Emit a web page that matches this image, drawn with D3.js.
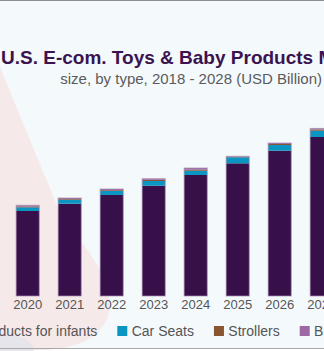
<!DOCTYPE html>
<html>
<head>
<meta charset="utf-8">
<script src="https://cdn.jsdelivr.net/npm/d3@7"></script>
<style>
  body { margin: 0; background: #fff; }
  svg { display: block; font-family: "Liberation Sans", Arial, sans-serif; }
  .title { font-weight: bold; fill: #3b1350; }
  .subtitle { fill: #5b5b5b; }
  .axis text { fill: #555; }
  .legend text { fill: #555; }
</style>
</head>
<body>
<svg id="chart"></svg>
<script>
  //begin: data (USD Billion)
  var years = ["2018","2019","2020","2021","2022","2023","2024","2025","2026","2027","2028"];
  var barYears = ["2020","2021","2022","2023","2024","2025","2026","2027"];
  var seriesNames = ["Products for infants", "Car Seats", "Strollers", "Baby Monitors"];
  var seriesColors = ["#37104a", "#0a95c2", "#8a5531", "#9c69a2"];
  var infants   = [8.50, 9.23, 10.10, 11.03, 12.10, 13.27, 14.53, 15.90];
  var carSeats  = [0.37, 0.40, 0.40, 0.47, 0.43, 0.60, 0.57, 0.63];
  var strollers = [0.08, 0.07, 0.08, 0.12, 0.10, 0.04, 0.10, 0.12];
  var monitors  = [0.12, 0.10, 0.12, 0.11, 0.17, 0.06, 0.10, 0.11];
  //end: data

  //begin: layout conf.
  var width = 324, height = 351,
      baseY = 296,
      topY = 96;
  //end: layout conf.

  var svg = d3.select("#chart").attr("width", width).attr("height", height);

  // background + decorative shapes
  svg.append("rect").attr("width", width).attr("height", 349).attr("fill", "#f4f9fc");
  svg.append("path")
    .attr("fill", "#f6e9e9")
    .attr("d", "M-40,-30 L63,220 C92,252 114,285 109,312 C103,338 78,349 40,350 L-40,350 Z");
  svg.append("ellipse")
    .attr("cx", 2).attr("cy", 350).attr("rx", 32).attr("ry", 16)
    .attr("fill", "#e6e5ec");
  svg.append("line").attr("x1", 0).attr("x2", width).attr("y1", 0.5).attr("y2", 0.5)
    .attr("stroke", "#8f8f8f");
  svg.append("line").attr("x1", 0).attr("x2", width).attr("y1", 348.5).attr("y2", 348.5)
    .attr("stroke", "#a9a9a9");

  // titles
  svg.append("text").classed("title", true)
    .attr("x", 1).attr("y", 63.5)
    .style("font-size", "19px")
    .text("U.S. E-com. Toys & Baby Products Market");
  svg.append("text").classed("subtitle", true)
    .attr("x", 322).attr("y", 83.5)
    .attr("text-anchor", "end")
    .style("font-size", "15px")
    .text("size, by type, 2018 - 2028 (USD Billion)");

  //begin: scales
  var x = d3.scaleBand()
    .domain(years)
    .range([-77.3, 384.7])
    .paddingInner(0.45)
    .paddingOuter(0.225);

  var y = d3.scaleLinear()
    .domain([0, 20])
    .range([baseY, topY]);
  //end: scales

  var table = barYears.map(function(yr, i) {
    return { year: yr, s0: infants[i], s1: carSeats[i], s2: strollers[i], s3: monitors[i] };
  });
  var stack = d3.stack().keys(["s0", "s1", "s2", "s3"])(table);

  var bars = svg.append("g").classed("bars", true);
  bars.selectAll("g")
    .data(stack)
    .enter().append("g")
      .attr("fill", function(d, i) { return seriesColors[i]; })
    .selectAll("rect")
    .data(function(d) { return d; })
    .enter().append("rect")
      .attr("x", function(d) { return x(d.data.year); })
      .attr("width", x.bandwidth())
      .attr("y", function(d) { return y(d[1]); })
      .attr("height", function(d) { return y(d[0]) - y(d[1]); });

  // light outline round each whole bar
  bars.selectAll(".outline")
    .data(table)
    .enter().append("rect")
      .classed("outline", true)
      .attr("x", function(d) { return x(d.year); })
      .attr("width", x.bandwidth())
      .attr("y", function(d) { return y(d.s0 + d.s1 + d.s2 + d.s3); })
      .attr("height", function(d) { return baseY - y(d.s0 + d.s1 + d.s2 + d.s3); })
      .attr("fill", "none")
      .attr("stroke", "#a58db0")
      .attr("stroke-opacity", 0.7)
      .attr("stroke-width", 1);

  // x axis
  var axis = svg.append("g")
    .classed("axis", true)
    .attr("transform", "translate(0," + baseY + ")")
    .call(d3.axisBottom(x).tickSize(0).tickPadding(4));
  axis.select(".domain").remove();
  axis.selectAll("text")
    .style("font-size", "13px")
    .style("font-family", "'Liberation Sans', Arial, sans-serif");

  //begin: legend
  var legend = svg.append("g").classed("legend", true);
  var item = legend.selectAll("g")
    .data(seriesNames)
    .enter().append("g");
  item.append("rect")
    .attr("y", -10).attr("width", 10).attr("height", 10)
    .attr("fill", function(d, i) { return seriesColors[i]; });
  item.append("text")
    .attr("x", 14.4)
    .style("font-size", "14px")
    .text(function(d) { return d; });

  var offsets = [], pos = 0;
  item.each(function(d, i) {
    offsets.push(pos);
    pos += 14.4 + this.querySelector("text").getComputedTextLength() + 20;
  });
  item.attr("transform", function(d, i) { return "translate(" + [offsets[i], 0] + ")"; });
  legend.attr("transform", "translate(" + [117.3 - offsets[1], 336] + ")");
  //end: legend
</script>
</body>
</html>
